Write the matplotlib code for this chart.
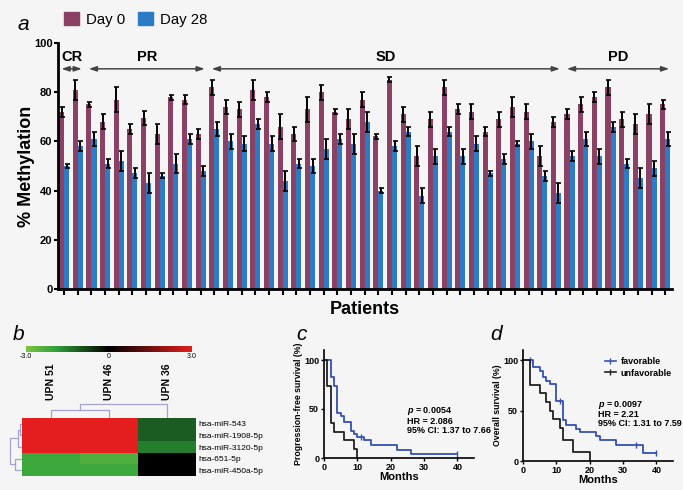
import numpy as np
import matplotlib
matplotlib.use('Agg')
import matplotlib.pyplot as plt
from matplotlib.colors import LinearSegmentedColormap, Normalize
from matplotlib.patches import Patch
from matplotlib.lines import Line2D
import matplotlib.cm as cm

plt.rcParams['font.family'] = ['Liberation Sans', 'DejaVu Sans']
plt.rcParams['mathtext.fontset'] = 'custom'
plt.rcParams['mathtext.it'] = 'Liberation Sans:italic:bold'
plt.rcParams['mathtext.rm'] = 'Liberation Sans:bold'

# ---------------- Panel a data ----------------
day0 = [72, 81, 75, 68, 77, 65, 69.5, 63, 78, 77, 63,
        82, 74, 73, 81, 78, 66, 63, 73, 80, 72, 69,
        77, 62, 85, 71, 54, 69, 82, 73, 72, 64, 69,
        74, 72, 54, 68, 71, 75, 78, 82, 69, 67, 71, 75]
day0_err = [2, 4, 1, 3, 5, 2, 3, 4, 1, 2, 2,
            3, 3, 3, 4, 2, 5, 3, 5, 3, 1, 4,
            3, 1, 1, 3, 4, 3, 3, 2, 3, 2, 3,
            4, 3, 4, 2, 2, 3, 2, 3, 3, 4, 4, 2]
day28 = [50, 58, 61, 51, 52, 47, 43, 46, 51, 61, 48,
         65, 60, 59, 67, 59, 44, 51, 50, 57, 61, 59,
         68, 40, 58, 64, 38, 54, 64, 54, 59, 47, 53,
         59, 60, 46, 39, 54, 61, 54, 66, 51, 45, 49, 61]
day28_err = [1, 2, 3, 2, 4, 2, 4, 1, 4, 2, 2,
             3, 3, 3, 2, 3, 4, 2, 3, 4, 2, 4,
             4, 1, 2, 2, 3, 3, 2, 3, 3, 1, 2,
             1, 3, 2, 4, 2, 3, 3, 2, 2, 4, 3, 3]
groups = ['CR', 'PR', 'SD', 'PD']
group_sizes = [2, 9, 26, 8]
yticks_a = [0, 20, 40, 60, 80, 100]

# ---------------- Panel b data ----------------
hm_cols = ['UPN 51', 'UPN 46', 'UPN 36']
hm_rows = ['hsa-miR-543', 'hsa-miR-1908-5p', 'hsa-miR-3120-5p', 'hsa-651-5p', 'hsa-miR-450a-5p']
hm_values = np.array([[3.0, 3.0, -1.1],
                      [3.0, 3.0, -1.1],
                      [3.0, 3.0, -1.5],
                      [-2.1, -2.35, 0.0],
                      [-2.1, -2.1, 0.0]])
col_links = [[0, 1, 0.57], [3, 2, 1.0]]
row_links = [[0, 1, 0.15], [5, 2, 0.35], [3, 4, 0.55], [6, 7, 1.0]]

# ---------------- Panel c data ----------------
c_fav_t = [0, 2, 3, 4, 5, 6, 8, 9, 10, 12, 14, 22, 26, 40]
c_fav_s = [100, 83, 73, 46, 43, 37, 28, 24, 21, 18, 13, 8, 4, 4]
c_fav_cens_t = [11, 40]
c_fav_cens_s = [21, 4]
c_unf_t = [0, 1, 2, 3, 6, 9, 10]
c_unf_s = [100, 73, 36, 27, 18, 9, 0]

# ---------------- Panel d data ----------------
d_fav_t = [0, 3, 5, 6, 7, 8, 10, 12, 13, 16, 17, 22, 23, 28, 36, 40]
d_fav_s = [100, 93, 89, 83, 79, 76, 59, 41, 36, 32, 29, 25, 21, 16, 8, 8]
d_fav_cens_t = [2, 11, 34, 40]
d_fav_cens_s = [100, 59, 16, 8]
d_unf_t = [0, 2, 5, 7, 8, 9, 11, 12, 15, 20]
d_unf_s = [100, 75, 67, 58, 50, 42, 33, 21, 9, 0]

W, H = 683, 490
BG = '#f5f5f5'
C0 = '#8b4163'
C28 = '#2d7bc4'
BLUE = '#3550b0'

fig = plt.figure(figsize=(W / 100, H / 100), dpi=100, facecolor=BG)


def ax_px(x0, y0, x1, y1):
    a = fig.add_axes([x0 / W, 1 - y1 / H, (x1 - x0) / W, (y1 - y0) / H])
    a.set_facecolor('none')
    return a


# ================= Panel a =================
ax = ax_px(58, 43, 672, 289)
n = len(day0)
x = np.arange(n)
bw = 0.37
ekw = dict(ecolor='black', elinewidth=1.4, capsize=1.8, capthick=1.2)
ax.bar(x - bw / 2, day0, bw, yerr=day0_err, color=C0, error_kw=ekw, zorder=2)
ax.bar(x + bw / 2, day28, bw, yerr=day28_err, color=C28, error_kw=ekw, zorder=2)
ax.set_xlim(-0.45, n - 0.5)
ax.set_ylim(0, 100)
ax.set_xticks(x)
ax.set_xticklabels([])
ax.tick_params(axis='x', direction='out', length=4, width=1.5)
ax.set_yticks(yticks_a)
ax.set_yticklabels([str(v) for v in yticks_a], fontsize=8, fontweight='bold')
ax.tick_params(axis='y', direction='out', length=3, width=1.5, pad=1)
for s in ['top', 'right']:
    ax.spines[s].set_visible(False)
for s in ['left', 'bottom']:
    ax.spines[s].set_linewidth(2)
ax.set_ylabel('% Methylation', fontsize=13, fontweight='bold', labelpad=-1)
ax.set_xlabel('Patients', fontsize=13, fontweight='bold', labelpad=1)

start = 0
for g, sz in zip(groups, group_sizes):
    a0 = start - 0.2
    a1 = start + sz - 0.7
    ax.annotate('', xy=(a0, 89.5), xytext=(a1, 89.5),
                arrowprops=dict(arrowstyle='<|-|>,head_length=0.45,head_width=0.15',
                                color='#444444', lw=1.1, shrinkA=0, shrinkB=0))
    ax.text((a0 + a1) / 2, 91.5, g, ha='center', va='bottom', fontsize=10.5, fontweight='bold')
    start += sz

fig.legend(handles=[Patch(color=C0, label='Day 0'), Patch(color=C28, label='Day 28')],
           loc='upper left', bbox_to_anchor=(58 / W, 1 - 6 / H), ncol=2, frameon=False,
           fontsize=10.8, handlelength=1.0, handleheight=1.0, handletextpad=0.5,
           columnspacing=0.8, borderaxespad=0)
fig.text(18 / W, 1 - 25 / H, 'a', fontsize=15, style='italic', va='center')

# ================= Panel b =================
cmap = LinearSegmentedColormap.from_list('gbr', [(0, '#7cc242'), (0.18, '#2fa23a'),
                                                 (0.5, '#000000'), (1.0, '#e41e1e')])
axh = ax_px(22, 418, 196, 476)
axh.imshow(hm_values, cmap=cmap, vmin=-3, vmax=3, aspect='auto', interpolation='nearest')
axh.set_xticks([])
axh.yaxis.tick_right()
axh.set_yticks(range(len(hm_rows)))
axh.set_yticklabels(hm_rows, fontsize=6)
axh.tick_params(axis='y', length=0, pad=2)
for s in axh.spines.values():
    s.set_visible(False)
for j, lab in enumerate(hm_cols):
    axh.text(j, -2.05, lab, rotation=90, ha='center', va='bottom', fontsize=7.5,
             fontweight='bold')


def draw_dendro(axd, links, nleaves, orient):
    pos = {i: float(i) for i in range(nleaves)}
    hts = {i: 0.0 for i in range(nleaves)}
    for k, (a, b, h) in enumerate(links):
        nid = nleaves + k
        pa, pb = pos[a], pos[b]
        ha, hb = hts[a], hts[b]
        xs = [pa, pa, pb, pb]
        ys = [ha, h, h, hb]
        if orient == 'top':
            axd.plot(xs, ys, color='#a3a3cc', lw=0.9)
        else:
            axd.plot(ys, xs, color='#a3a3cc', lw=0.9)
        pos[nid] = (pa + pb) / 2
        hts[nid] = h


axt = ax_px(22, 400, 196, 418)
draw_dendro(axt, col_links, 3, 'top')
axt.set_xlim(-0.5, 2.5)
axt.set_ylim(0, 1.28)
axt.axis('off')

axl = ax_px(9, 418, 22, 476)
draw_dendro(axl, row_links, 5, 'left')
axl.set_ylim(4.5, -0.5)
axl.set_xlim(1.05, 0)
axl.axis('off')

cax = ax_px(26, 346, 192, 352)
cb = fig.colorbar(cm.ScalarMappable(norm=Normalize(-3, 3), cmap=cmap), cax=cax,
                  orientation='horizontal')
cb.outline.set_visible(False)
cb.set_ticks([])
for v, lab in [(-3, '-3.0'), (0, '0'), (3, '3.0')]:
    xp = 26 + (v + 3) / 6 * 166
    fig.text(xp / W, 1 - 357 / H, lab, fontsize=5, ha='center', va='center')
fig.text(13 / W, 1 - 335 / H, 'b', fontsize=15, style='italic', va='center')


# ================= Panels c, d =================
def km_axes(x0, y0, y100, ylabel):
    top = y0 - (y0 - y100) * 1.1
    a = ax_px(x0, top, x0 + 150, y0)
    a.set_xlim(0, 45)
    a.set_ylim(0, 110)
    a.set_xticks([0, 10, 20, 30, 40])
    a.set_yticks([0, 50, 100])
    a.tick_params(labelsize=6.5, length=2.5, width=1, pad=1)
    for lab in a.get_xticklabels() + a.get_yticklabels():
        lab.set_fontweight('bold')
    for s in ['top', 'right']:
        a.spines[s].set_visible(False)
    for s in ['left', 'bottom']:
        a.spines[s].set_linewidth(1.2)
    a.set_xlabel('Months', fontsize=8, fontweight='bold', labelpad=0)
    a.set_ylabel(ylabel, fontsize=6.3, fontweight='bold', labelpad=1)
    return a


def km(a, t, s, color, ct=None, cs=None):
    a.step(t, s, where='post', color=color, lw=1.3, clip_on=False)
    if ct is not None:
        a.plot(ct, cs, ls='none', marker='|', ms=4, mew=1, color=color, clip_on=False)


axc = km_axes(324, 458, 360, 'Progression-free survival (%)')
km(axc, c_fav_t, c_fav_s, BLUE, c_fav_cens_t, c_fav_cens_s)
km(axc, c_unf_t, c_unf_s, '#222222')
axc.text(0.55, 0.42, r'$\it{p}$ = 0.0054', transform=axc.transAxes, fontsize=6.5,
         fontweight='bold')
axc.text(0.55, 0.32, 'HR = 2.086', transform=axc.transAxes, fontsize=6.5, fontweight='bold')
axc.text(0.55, 0.235, '95% CI: 1.37 to 7.66', transform=axc.transAxes, fontsize=6.5,
         fontweight='bold')
fig.text(296 / W, 1 - 335 / H, 'c', fontsize=15, style='italic', va='center')

axd = km_axes(523, 461, 360, 'Overall survival (%)')
km(axd, d_fav_t, d_fav_s, BLUE, d_fav_cens_t, d_fav_cens_s)
km(axd, d_unf_t, d_unf_s, '#222222')
axd.text(0.5, 0.49, r'$\it{p}$ = 0.0097', transform=axd.transAxes, fontsize=6.5,
         fontweight='bold')
axd.text(0.5, 0.40, 'HR = 2.21', transform=axd.transAxes, fontsize=6.5, fontweight='bold')
axd.text(0.5, 0.315, '95% CI: 1.31 to 7.59', transform=axd.transAxes, fontsize=6.5,
         fontweight='bold')
axd.legend(handles=[Line2D([], [], color=BLUE, marker='|', ms=4, lw=1.2, label='favorable'),
                    Line2D([], [], color='#222222', marker='|', ms=4, lw=1.2, label='unfavorable')],
           loc='upper left', bbox_to_anchor=(0.52, 0.97), frameon=False,
           prop={'size': 6.5, 'weight': 'bold'}, handlelength=1.3, handletextpad=0.5,
           labelspacing=0.3, borderaxespad=0)
fig.text(490 / W, 1 - 335 / H, 'd', fontsize=15, style='italic', va='center')

fig.savefig('out.png', dpi=100, facecolor=BG)
